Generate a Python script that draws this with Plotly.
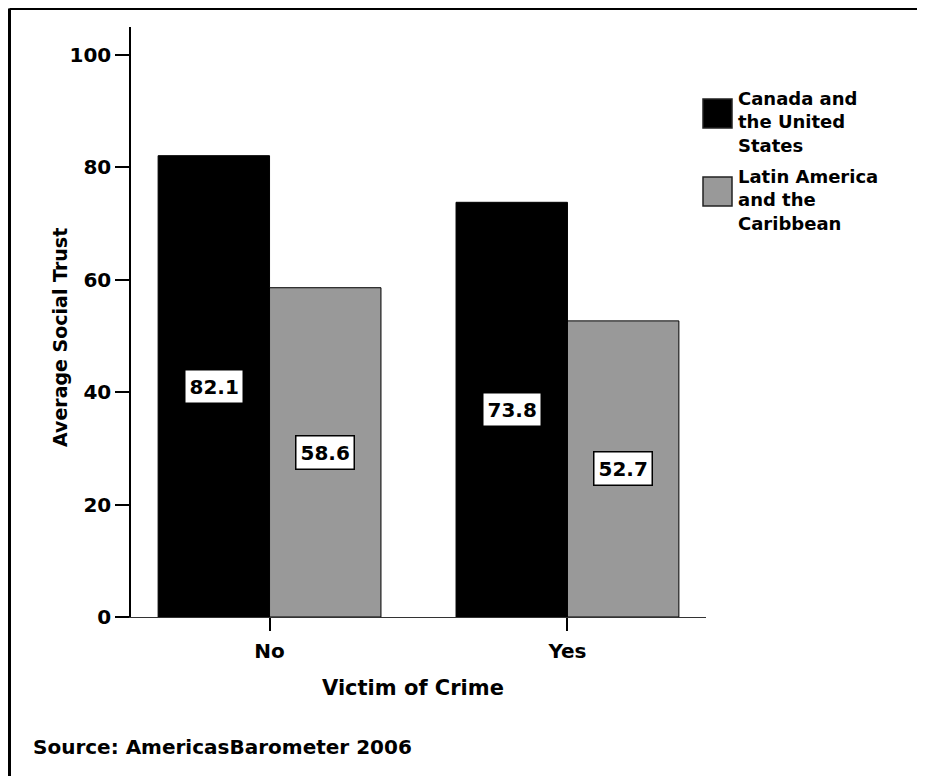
import plotly.graph_objects as go

# data
categories = ["No", "Yes"]
canada_us = [82.1, 73.8]
latin_america = [58.6, 52.7]
legend_labels = ["Canada and<br>the United<br>States",
                 "Latin America<br>and the<br>Caribbean"]

FONT = "DejaVu Sans, Arial Black, sans-serif"
OFF = 8  # default body margin of the page
W, H = 925 - OFF, 776 - OFF
L, R, T, B = 123, 219, 19, 159
PW, PH = W - L - R, H - T - B


# page pixel -> paper coordinates
def px(x):
    return (x - OFF - L) / PW


def py(y):
    return (H - B - (y - OFF)) / PH


def bold(size):
    return dict(family=FONT, size=size, color="black", weight="bold")


fig = go.Figure()
fig.add_trace(go.Bar(x=categories, y=canada_us, name="Canada and the United States",
                     marker=dict(color="black", line=dict(color="black", width=1))))
fig.add_trace(go.Bar(x=categories, y=latin_america, name="Latin America and the Caribbean",
                     marker=dict(color="#999999", line=dict(color="black", width=1))))

# value boxes at half bar height
annotations = []
for i, (a, b) in enumerate(zip(canada_us, latin_america)):
    for off, v in ((-0.187, a), (0.187, b)):
        annotations.append(dict(x=i + off, y=v / 2, xref="x", yref="y", text=f"{v:.1f}",
                                xanchor="center", yanchor="middle",
                                showarrow=False, bgcolor="white", bordercolor="black",
                                borderwidth=1.5, borderpad=4, font=bold(20)))

annotations += [
    dict(x=px(60), y=py(338), xref="paper", yref="paper", text="Average Social Trust",
         xanchor="center", yanchor="middle", textangle=-90, showarrow=False, font=bold(19)),
    dict(x=px(413), y=py(688), xref="paper", yref="paper", text="Victim of Crime",
         xanchor="center", yanchor="middle", showarrow=False, font=bold(21)),
    dict(x=px(31), y=py(747), xref="paper", yref="paper", text="Source: AmericasBarometer 2006",
         xanchor="left", yanchor="middle", showarrow=False, font=bold(20)),
]

# custom legend
shapes = []
colors = ["black", "#999999"]
tops = [99, 177]
text_tops = [86, 164]
for label, c, t, tt in zip(legend_labels, colors, tops, text_tops):
    shapes.append(dict(type="rect", xref="paper", yref="paper", x0=px(703), x1=px(732),
                       y0=py(t + 29), y1=py(t), fillcolor=c, line=dict(color="#222", width=1.5)))
    annotations.append(dict(x=px(736), y=py(tt), xref="paper", yref="paper", text=label,
                            xanchor="left", yanchor="top", align="left", showarrow=False,
                            font=bold(18)))

# clipped outer frame (top and left edges)
shapes.append(dict(type="line", xref="paper", yref="paper", x0=px(9.5), x1=px(940),
                   y0=py(8.5), y1=py(8.5), line=dict(color="black", width=3)))
shapes.append(dict(type="line", xref="paper", yref="paper", x0=px(9.5), x1=px(9.5),
                   y0=py(8.5), y1=py(790), line=dict(color="black", width=3)))

fig.update_layout(
    width=W, height=H, margin=dict(l=L, r=R, t=T, b=B),
    plot_bgcolor="white", paper_bgcolor="white",
    barmode="group", bargap=0.252, bargroupgap=0,
    showlegend=False, annotations=annotations, shapes=shapes,
    font=dict(family=FONT, color="black"),
)
fig.update_xaxes(type="category", range=[-0.465, 1.465], showline=True, linecolor="#333",
                 linewidth=1, ticks="outside", ticklen=13, tickwidth=2, tickcolor="black",
                 ticklabelstandoff=3, showgrid=False, tickfont=bold(20))
fig.update_yaxes(range=[0, 105], showline=True, linecolor="black", linewidth=1.5,
                 ticks="outside", ticklen=14, tickwidth=2, tickcolor="black",
                 tickvals=[0, 20, 40, 60, 80, 100], showgrid=False, zeroline=False,
                 tickfont=bold(20))

fig.write_html("out.html")
